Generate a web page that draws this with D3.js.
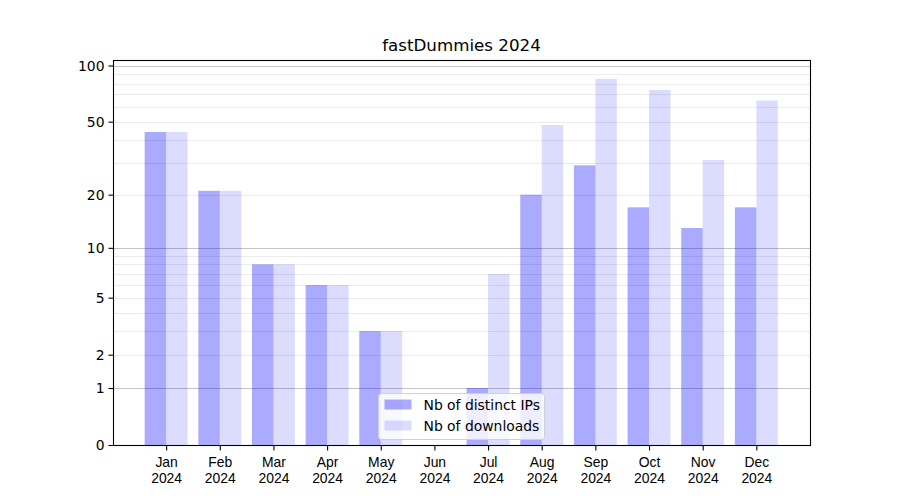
<!DOCTYPE html>
<html>
<head>
<meta charset="utf-8">
<script src="https://cdn.jsdelivr.net/npm/d3@7"></script>
<style>
  body { margin: 0; background: #fff; }
  svg { display: block; font-family: "DejaVu Sans", sans-serif; }
</style>
</head>
<body>
<svg id="chart" width="900" height="500"></svg>
<script>
const months = ["Jan", "Feb", "Mar", "Apr", "May", "Jun", "Jul", "Aug", "Sep", "Oct", "Nov", "Dec"];
const year = "2024";
const distinctIPs = [44, 21, 8, 6, 3, 0, 1, 20, 29, 17, 13, 17];
const downloads   = [44, 21, 8, 6, 3, 0, 7, 48, 85, 74, 31, 65];
const yTicks = [0, 1, 2, 5, 10, 20, 50, 100];
const majorGrid = [1, 10, 100];
const minorGrid = [2, 3, 4, 5, 6, 7, 8, 9, 20, 30, 40, 50, 60, 70, 80, 90];
const seriesNames = ["Nb of distinct IPs", "Nb of downloads"];
const title = "fastDummies 2024";

const svg = d3.select("#chart");
const m = { left: 113, right: 810, top: 60, bottom: 445 };

const x = d3.scaleLinear().domain([-0.99, 12.0]).range([m.left, m.right]);
const y = d3.scaleSymlog().constant(1).domain([0, 107]).range([m.bottom, m.top]);
const barW = x(0.4) - x(0);

// grid
const g = svg.append("g");
g.selectAll("line.minor").data(minorGrid).join("line")
  .attr("x1", m.left).attr("x2", m.right)
  .attr("y1", d => Math.round(y(d)) + 0.5).attr("y2", d => Math.round(y(d)) + 0.5)
  .attr("stroke", "#ebebeb").attr("stroke-width", 1);
g.selectAll("line.major").data(majorGrid).join("line")
  .attr("x1", m.left).attr("x2", m.right)
  .attr("y1", d => Math.round(y(d)) + 0.5).attr("y2", d => Math.round(y(d)) + 0.5)
  .attr("stroke", "#c4c4c4").attr("stroke-width", 1);

// bars
svg.append("g").selectAll("rect").data(distinctIPs).join("rect")
  .attr("x", (d, i) => x(i) - barW)
  .attr("width", barW)
  .attr("y", d => y(d))
  .attr("height", d => y(0) - y(d))
  .attr("fill", "#0000ff").attr("fill-opacity", 0.333);
svg.append("g").selectAll("rect").data(downloads).join("rect")
  .attr("x", (d, i) => x(i))
  .attr("width", barW)
  .attr("y", d => y(d))
  .attr("height", d => y(0) - y(d))
  .attr("fill", "#0000ff").attr("fill-opacity", 0.137);

// axes
const yAxis = d3.axisLeft(y).tickValues(yTicks).tickFormat(d3.format("d")).tickSize(5).tickPadding(4);
const ya = svg.append("g").attr("transform", `translate(${m.left + 0.5},0)`).call(yAxis);
const xAxis = d3.axisBottom(x).tickValues(d3.range(months.length)).tickFormat(() => "").tickSize(5);
const xa = svg.append("g").attr("transform", `translate(0,${m.bottom + 0.5})`).call(xAxis);
[ya, xa].forEach(a => {
  a.select(".domain").remove();
  a.selectAll(".tick line").attr("stroke", "#000").attr("stroke-width", 1.1);
  a.selectAll("text").attr("font-size", "13.9px").attr("fill", "#000").attr("font-family", "DejaVu Sans");
});
ya.selectAll(".tick text").attr("dy", "0.35em");
xa.selectAll(".tick").each(function(d, i) {
  const t = d3.select(this).append("text")
    .attr("text-anchor", "middle").attr("font-size", "13.9px").attr("fill", "#000");
  t.append("tspan").attr("x", 0).attr("y", 21).text(months[i]);
  t.append("tspan").attr("x", 0).attr("y", 37).text(year);
});

// frame
svg.append("rect").attr("x", m.left + 0.5).attr("y", m.top + 0.5)
  .attr("width", m.right - m.left).attr("height", m.bottom - m.top)
  .attr("fill", "none").attr("stroke", "#000").attr("stroke-width", 1.1);

// title
svg.append("text").attr("x", (m.left + m.right) / 2).attr("y", 51)
  .attr("text-anchor", "middle").attr("font-size", "16.7px").attr("fill", "#000").text(title);

// legend
const lg = svg.append("g").attr("transform", "translate(378.5,393.5)");
lg.append("rect").attr("width", 166).attr("height", 46).attr("rx", 3)
  .attr("fill", "#fff").attr("fill-opacity", 0.8).attr("stroke", "#d0d0d0");
const lgOp = [0.333, 0.137];
seriesNames.forEach((s, i) => {
  lg.append("rect").attr("x", 6).attr("y", 6 + i * 21).attr("width", 27).attr("height", 10)
    .attr("fill", "#0000ff").attr("fill-opacity", lgOp[i]);
  lg.append("text").attr("x", 45).attr("y", 16 + i * 21).attr("font-size", "13.9px")
    .attr("fill", "#000").text(s);
});
</script>
</body>
</html>
